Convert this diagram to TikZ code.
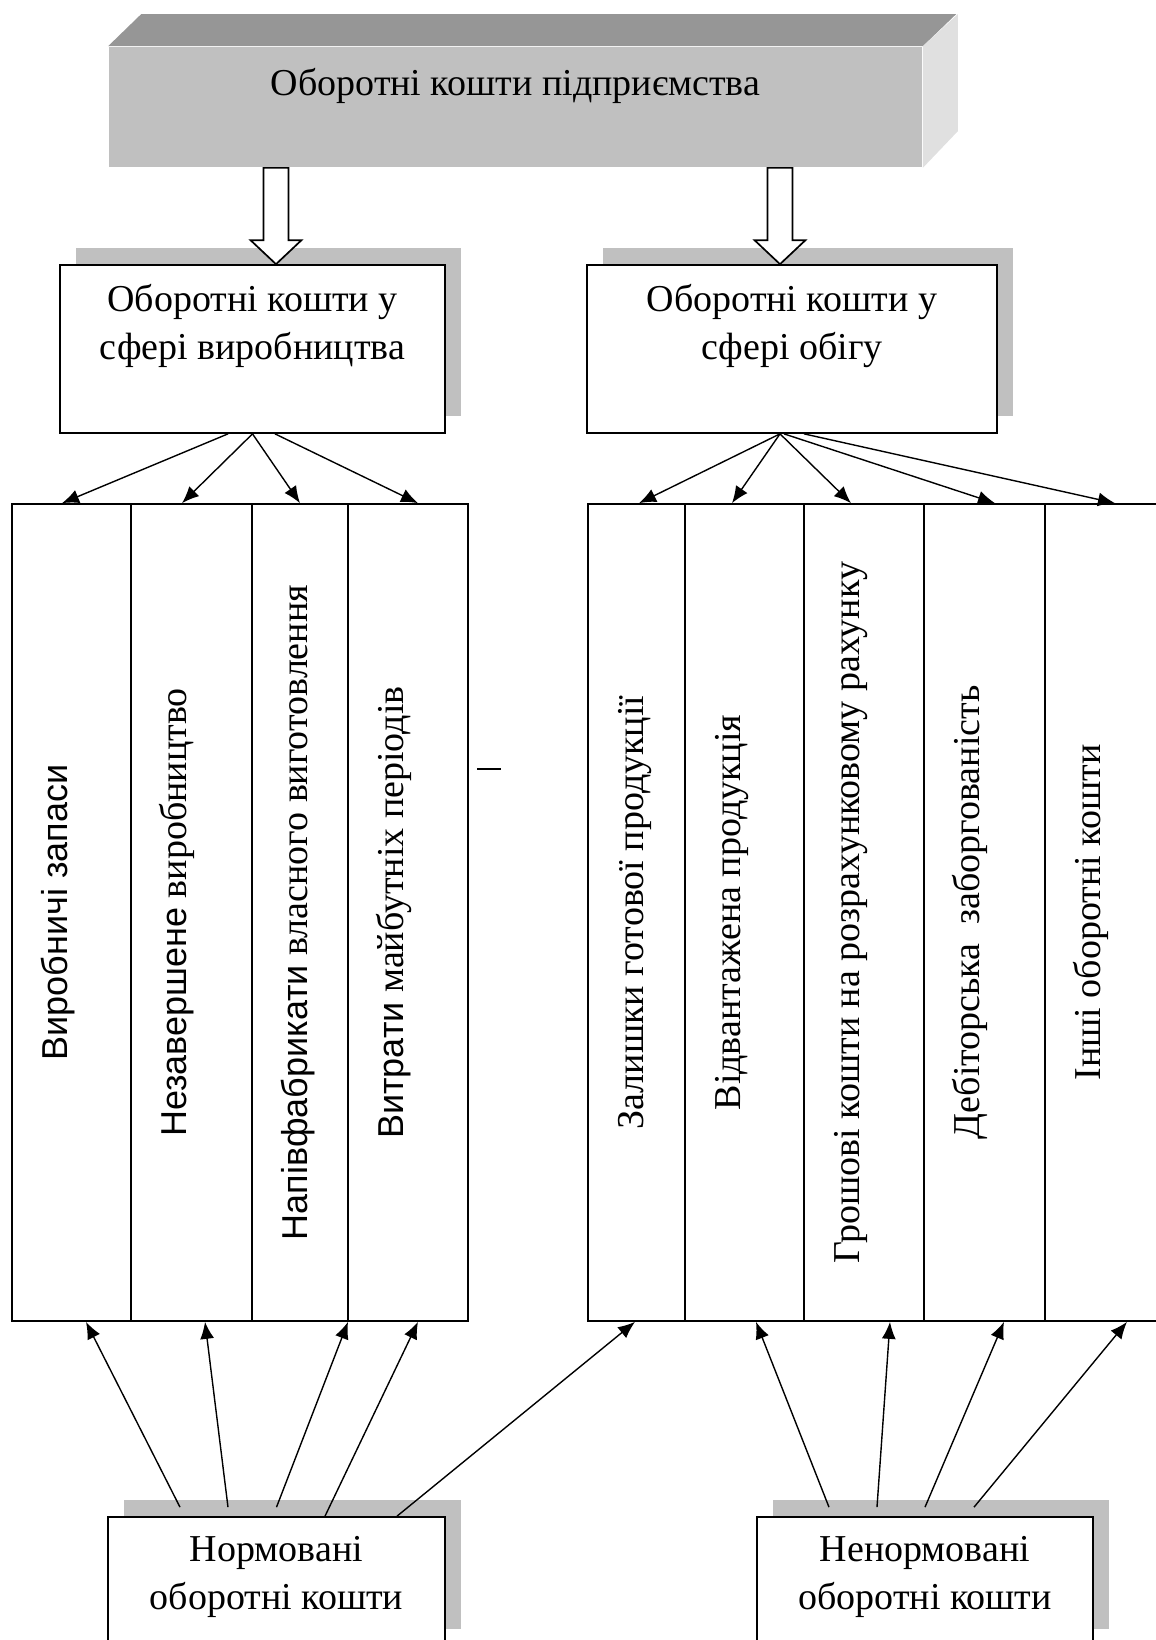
\documentclass[tikz,border=0pt]{standalone}
\usepackage{fontspec}
\setmainfont{Liberation Serif}
\newfontfamily\sansua{Liberation Sans}
\usetikzlibrary{positioning,calc,shadows,arrows.meta}
\definecolor{shade}{HTML}{C0C0C0}
\definecolor{lidgray}{HTML}{969696}
\definecolor{sidegray}{HTML}{E0E0E0}
\tikzset{
  box/.style={draw, fill=white, inner sep=0pt,
    drop shadow={shadow xshift=8pt, shadow yshift=8.5pt, fill=shade, opacity=1}},
  boxtext/.style={align=center, inner sep=0pt, font=\fontsize{19}{24}\selectfont},
  col/.style={draw, inner sep=0pt, minimum height=408.5pt},
  vtext/.style={rotate=90, anchor=base, inner sep=0pt},
  arr/.style={line width=0.7pt, -{Latex[length=8.5pt,width=7pt]}},
}
\newcommand{\sanspart}{\sansua\fontsize{18}{22}\selectfont}
\newcommand{\hollowarrow}[2]{%
  \draw[fill=white] let \p1=(#1), \p2=(#2) in
    (\x1-6.25pt,\y1) -- (\x1-6.25pt,\y2+12pt) -- (\x1-12.75pt,\y2+12pt) -- (\x1,\y2)
    -- (\x1+12.75pt,\y2+12pt) -- (\x1+6.25pt,\y2+12pt) -- (\x1+6.25pt,\y1) -- cycle;}
\begin{document}
\begin{tikzpicture}[x=0.5pt, y=-0.5pt, line width=0.85pt, font=\fontsize{19}{23}\selectfont]
\clip (0,0) rectangle (1156,1640);
% top block
\node[fill=shade, inner sep=0pt, minimum width=406.5pt, text height=24pt, text depth=36pt] (top) at (515.5,107) {Оборотні кошти підприємства};
\fill[lidgray] (top.north west) -- ++(33,-32) -- ++(815,0) -- (top.north east) -- cycle;
\fill[sidegray] (top.north east) -- ++(35,-32) -- ++(0,117) -- (top.south east) -- cycle;
% production / circulation
\node[box, minimum width=192.5pt, minimum height=84pt] (prod) at (252.5,349) {};
\node[boxtext, below=9.5pt of prod.north] (prodtxt) {Оборотні кошти у\\сфері виробництва};
\node[box, minimum width=205pt, minimum height=84pt] (circ) at (792,349) {};
\node[boxtext, below=9.5pt of circ.north] (circtxt) {Оборотні кошти у\\сфері обігу};
\hollowarrow{[xshift=-119.75pt]top.south}{prod.north}
\hollowarrow{[xshift=132.25pt]top.south}{circ.north}
% columns
\foreach \nm/\a/\b in {p1/12/131, p2/131/252, p3/252/348, p4/348/468,
    r1/588/685, r2/685/804, r3/804/924, r4/924/1045, r5/1045/1165}{
  \pgfmathsetmacro{\w}{(\b-\a)/2}
  \node[col, minimum width=\w pt] (\nm) at ({(\a+\b)/2},912.5) {};
}
\node[vtext] (p1t) at ($(p1.west)+(56.5,0)$) {\sanspart Виробничі запаси};
\node[vtext] (p2t) at ($(p2.west)+(56.5,0)$) {{\sanspart Незавершене} виробництво};
\node[vtext] (p3t) at ($(p3.west)+(56.5,0)$) {{\sanspart Напівфабрикати} власного виготовлення};
\node[vtext] (p4t) at ($(p4.west)+(56.5,0)$) {{\sanspart Витрати} майбутніх періодів};
\node[vtext] (r1t) at ($(r1.west)+(56.5,0)$) {Залишки готової продукції};
\node[vtext] (r2t) at ($(r2.west)+(56.5,0)$) {Відвантажена продукція};
\node[vtext] (r3t) at ($(r3.west)+(56.5,0)$) {Грошові кошти на розрахунковому рахунку};
\node[vtext] (r4t) at ($(r4.west)+(56.5,0)$) {Дебіторська\ \ заборгованість};
\node[vtext] (r5t) at ($(r5.west)+(56.5,0)$) {Інші оборотні кошти};
\draw (477,769) -- (501,769);
% norm boxes
\node[box, minimum width=168.5pt, minimum height=64.5pt] (norm) at (276.5,1581.5) {};
\node[boxtext, below=9.5pt of norm.north] (normtxt) {Нормовані\\оборотні кошти};
\node[box, minimum width=168pt, minimum height=64.5pt] (nenorm) at (925,1581.5) {};
\node[boxtext, below=9.5pt of nenorm.north] (nenormtxt) {Ненормовані\\оборотні кошти};
% arrows down
\foreach \s/\t/\c in {-12.25/-4.75/p1, 0/-4.75/p2, 0/0/p3, 11.25/5/p4}
  \draw[arr] ([xshift=\s pt]prod.south) -- ([xshift=\t pt]\c.north);
\foreach \s/\t/\c in {-6/1.25/r1, -6/-6.25/r2, -6/-6.5/r3, -4/5.25/r4, 6/5/r5}
  \draw[arr] ([xshift=\s pt]circ.south) -- ([xshift=\t pt]\c.north);
% arrows up
\foreach \s/\u/\t/\c in {-48.25/4.5/7.25/p1, -24.25/4.5/6.75/p2, 0/4.5/24/p3, 24.25/0/5/p4, 60.25/0/-0.75/r1}
  \draw[arr] ([xshift=\s pt, yshift=\u pt]norm.north) -- ([xshift=\t pt]\c.south);
\foreach \s/\t/\c in {-48/5.75/r2, -24/13/r3, 0/9.75/r4, 24.5/11/r5}
  \draw[arr] ([xshift=\s pt, yshift=4.5pt]nenorm.north) -- ([xshift=\t pt]\c.south);
\end{tikzpicture}
\end{document}
